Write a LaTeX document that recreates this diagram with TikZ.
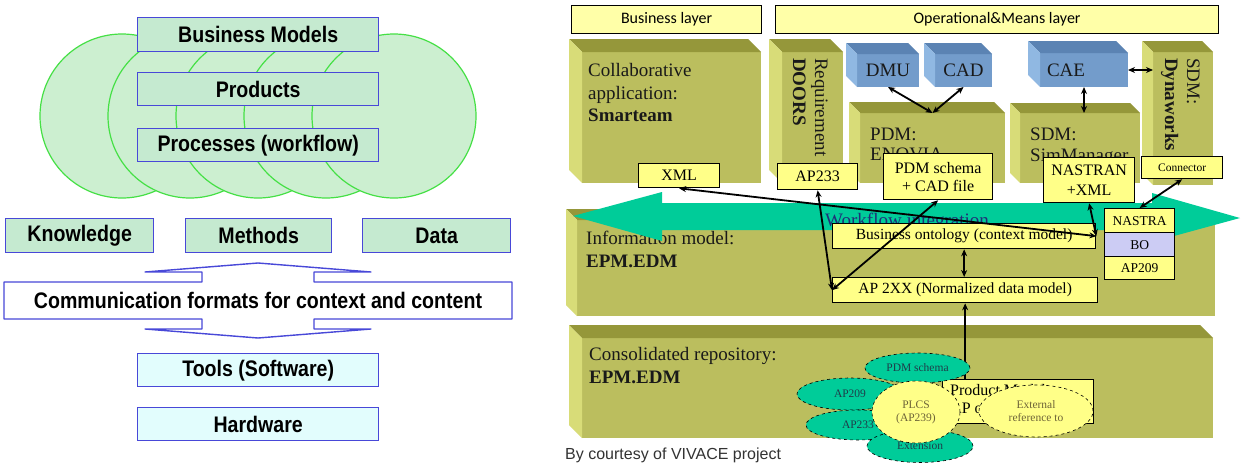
\documentclass[tikz,border=0pt]{standalone}
\usepackage{fontspec}
\setmainfont{Liberation Serif}
\newfontfamily\lsans[FakeStretch=0.87]{Liberation Sans}
\newfontfamily\arialf{Liberation Sans}
\newfontfamily\calib{Carlito}
\usetikzlibrary{calc,arrows.meta,shapes.geometric}
\definecolor{cgreen}{HTML}{CCEFD0}
\definecolor{cgline}{HTML}{45E045}
\definecolor{bgreen}{HTML}{C5EAD0}
\definecolor{bblue}{HTML}{4848D8}
\definecolor{bcyan}{HTML}{E2FDFD}
\definecolor{ofront}{HTML}{BBBE5E}
\definecolor{otop}{HTML}{95973A}
\definecolor{oside}{HTML}{D8DC78}
\definecolor{bfront}{HTML}{739CCB}
\definecolor{btop}{HTML}{5B83B3}
\definecolor{bside}{HTML}{90B8E2}
\definecolor{ylw}{HTML}{FFFF88}
\definecolor{hdry}{HTML}{FFFFA8}
\definecolor{lavc}{HTML}{CCCCF4}
\definecolor{tealc}{HTML}{00CC99}
\definecolor{wfblue}{HTML}{1F2F78}
\definecolor{telltxt}{HTML}{1F3D4A}
\definecolor{yelltxt}{HTML}{6E6438}
\definecolor{captc}{HTML}{333333}
\newcommand{\rbox}[7]{\node[#6,anchor=north west,minimum width={(#4-#2)*1pt},minimum height={(#5-#3)*1pt}] (#1) at (#2,#3) {#7};}
\newcommand{\tdbox}[7]{%
  \rbox{#1}{#2}{#3}{#4}{#5}{#7front}{}
  \fill[#7top] (#1.north west) -- ++(-#6,-#6) -- ($(#1.north east)+(-#6,-#6)$) -- (#1.north east) -- cycle;
  \fill[#7side] (#1.north west) -- ++(-#6,-#6) -- ($(#1.south west)+(-#6,-#6)$) -- (#1.south west) -- cycle;}
\tikzset{
  circ/.style={circle,minimum size=164pt,inner sep=0pt,fill=cgreen,draw=cgline,line width=1.2pt},
  lbox/.style={draw=bblue,line width=1.4pt,fill=bgreen,inner sep=0pt,font=\lsans\bfseries\fontsize{22.5}{26}\selectfont},
  lcbox/.style={lbox,fill=bcyan},
  olivefront/.style={fill=ofront,inner sep=0pt,outer sep=0pt},
  olivetop/.style={fill=otop},
  oliveside/.style={fill=oside},
  bluefront/.style={fill=bfront,inner sep=0pt,outer sep=0pt},
  bluetop/.style={fill=btop},
  blueside/.style={fill=bside},
  hdr/.style={draw=black,line width=1.2pt,fill=hdry,inner sep=0pt,font=\calib\fontsize{16}{18}\selectfont},
  ylab/.style={draw=black,line width=1.3pt,fill=ylw,inner sep=0pt,font=\fontsize{16}{18}\selectfont},
  lavbox/.style={ylab,fill=lavc},
  lbl/.style={inner sep=0pt,font=\fontsize{19}{22}\selectfont,text=black!90},
  conn/.style={line width=1.8pt,black},
  tell/.style={ellipse,draw=black,dashed,line width=0.6pt,fill=tealc,inner sep=0pt,text=telltxt,font=\fontsize{11.5}{13}\selectfont},
  yell/.style={tell,fill=ylw,text=yelltxt,align=center}
}
\begin{document}
\begin{tikzpicture}[x=1pt,y=-1pt,>={Stealth[length=7pt,width=6pt]}]
\fill[white] (0,0) rectangle (1243,472);
\useasboundingbox (0,0) rectangle (1243,472);
% ---------------- left part
\foreach \i/\cx in {1/122,2/190,3/258,4/326,5/394} \node[circ] (circ\i) at (\cx,116) {};
\rbox{bm}{137}{17}{378}{51}{lbox}{Business Models}
\rbox{prods}{137}{72}{378}{105}{lbox}{Products}
\rbox{procs}{137}{128}{378}{161}{lbox}{Processes (workflow)}
\rbox{know}{5}{218}{153}{252}{lbox}{Knowledge}
\rbox{meth}{185}{218}{331}{252}{lbox}{Methods}
\rbox{data}{362}{218}{510}{252}{lbox}{Data}
\draw[draw=bblue,line width=1.4pt,fill=white,line join=round]
  (4,282) -- (202,282) -- (202,272) -- (145,272) -- (258,263) -- (371,272) -- (314,272) -- (314,282)
  -- (512,282) -- (512,319) -- (314,319) -- (314,329) -- (371,329) -- (258,338) -- (145,329)
  -- (202,329) -- (202,319) -- (4,319) -- cycle;
\node[inner sep=0pt,font=\lsans\bfseries\fontsize{22.5}{26}\selectfont] (comm) at (258,300.5) {Communication formats for context and content};
\rbox{tools}{137}{353}{378}{386}{lcbox}{Tools (Software)}
\rbox{hw}{137}{407}{378}{440}{lcbox}{Hardware}
% ---------------- right part: big layers
\tdbox{info}{577}{220}{1215}{316}{11}{olive}
\tdbox{cons}{582}{338}{1213}{438}{13}{olive}
% headers
\rbox{bl}{571}{5}{761}{33}{hdr}{Business layer}
\rbox{ol}{775}{5}{1218}{33}{hdr}{Operational\&Means layer}
% application boxes
\tdbox{collab}{582}{52}{761}{183}{13}{olive}
\tdbox{req}{782}{52}{843}{183}{13}{olive}
\tdbox{pdm}{860}{113}{1005}{183}{11}{olive}
\tdbox{sdm}{1020}{113}{1140}{183}{10}{olive}
\tdbox{dyn}{1153}{52}{1213}{185}{11}{olive}
\tdbox{dmu}{857}{54}{919}{87}{11}{blue}
\tdbox{cad}{935}{54}{992}{87}{11}{blue}
\tdbox{cae}{1040}{53}{1128}{87}{12}{blue}
\node[lbl] (dmut) at (dmu.center) {DMU};
\node[lbl] (cadt) at (cad.center) {CAD};
\node[lbl] (caet) at (1066,70) {CAE};
% labels in boxes
\node[lbl,anchor=base west] (col1) at (588,76) {Collaborative};
\node[lbl,anchor=base west] (col2) at (588,99) {application:};
\node[lbl,anchor=base west] (col3) at (588,121) {\textbf{Smarteam}};
\node[lbl,rotate=-90,anchor=base west] (req1) at (815,58) {Requirement};
\node[lbl,rotate=-90,anchor=base west] (req2) at (793,58) {\textbf{DOORS}};
\node[lbl,rotate=-90,anchor=base west] (dyn1) at (1187,58) {SDM:};
\node[lbl,rotate=-90,anchor=base west] (dyn2) at (1165,58) {\textbf{Dynaworks}};
\node[lbl,anchor=base west] (pdm1) at (870,140) {PDM:};
\node[lbl,anchor=base west] (pdm2) at (870,160) {ENOVIA};
\node[lbl,anchor=base west] (sdm1) at (1030,140) {SDM:};
\node[lbl,anchor=base west] (sdm2) at (1030,161) {SimManager};
\node[lbl,anchor=base west] (inf1) at (586,244) {Information model:};
\node[lbl,anchor=base west] (inf2) at (586,267) {\textbf{EPM.EDM}};
\node[lbl,anchor=base west] (con1) at (589,360) {Consolidated repository:};
\node[lbl,anchor=base west] (con2) at (589,383) {\textbf{EPM.EDM}};
% yellow labels upper row
\rbox{xml}{638}{163}{719}{187}{ylab}{XML}
\rbox{ap233}{777}{163}{857}{189}{ylab}{AP233}
\rbox{pdms}{883}{153}{992}{199}{ylab,align=center}{PDM schema\\+ CAD file}
\rbox{nas}{1043}{157}{1134}{202}{ylab,align=center,font=\fontsize{16}{20}\selectfont}{NASTRAN\\+XML}
\rbox{conn}{1141}{156}{1222}{178}{ylab,font=\fontsize{11.5}{13}\selectfont}{Connector}
% workflow arrow
\fill[tealc] (573,216) -- (662,192) -- (662,203) -- (1152,203) -- (1152,193) -- (1240,218)
  -- (1152,242) -- (1152,230) -- (662,230) -- (662,241) -- cycle;
\node[lbl,anchor=base west,text=wfblue] (wft) at (825,226) {Workflow integration};
% information model boxes
\rbox{bont}{832}{223}{1095}{248}{ylab,font=\fontsize{15.5}{18}\selectfont}{Business ontology (context model)}
\rbox{ap2xx}{832}{277}{1097}{302}{ylab,font=\fontsize{15.5}{18}\selectfont}{AP 2XX (Normalized data model)}
\rbox{nastra}{1104}{208}{1174}{232}{ylab,font=\fontsize{13.5}{15}\selectfont}{NASTRA}
\rbox{bo}{1104}{232}{1174}{256}{lavbox,font=\fontsize{13.5}{15}\selectfont}{BO}
\rbox{ap209}{1104}{256}{1174}{279}{ylab,font=\fontsize{13.5}{15}\selectfont}{AP209}
% consolidated repository contents
\rbox{prod}{942}{379}{1093}{423}{ylab}{}
\node[inner sep=0pt,anchor=west,align=left,font=\fontsize{16}{18}\selectfont] (prodt) at (950,399) {Product Model\\AP or};
% connectors
\draw[conn,<->] (dmu.south) -- (pdm.north);
\draw[conn,<->] (cad.south) -- (pdm.north);
\draw[conn,<->] (cae.south) -- (cae.south |- sdm.north);
\draw[conn,<->] (cae.east) -- (dyn.west |- cae.east);
\draw[conn,<->] (xml.south) -- (bont.east);
\draw[conn,<->] (nas.south) -- (bont.east);
\draw[conn,<->] (conn.south) -- (nastra.north);
\draw[conn,<->] (ap233.south) -- (ap2xx.west);
\draw[conn,<->] (pdms.south) -- (ap2xx.west);
\draw[conn,<->] (bont.south) -- (bont.south |- ap2xx.north);
\coordinate (prodtop) at (ap2xx.south |- prod.north);
\draw[conn,->] (prodtop) -- (ap2xx.south);
% ellipses
\node[tell,minimum width=105pt,minimum height=30pt] (epdm) at (917.5,368) {PDM schema};
\node[tell,minimum width=106pt,minimum height=32pt] (e209) at (850,394) {AP209};
\node[tell,minimum width=104pt,minimum height=30pt] (e233) at (858,425) {AP233};
\node[tell,minimum width=106pt,minimum height=33pt] (eext) at (920,446) {Extension};
\node[yell,minimum width=88pt,minimum height=62pt] (eplcs) at (916,412) {PLCS\\(AP239)};
\node[yell,minimum width=114pt,minimum height=52pt] (eref) at (1036,411) {External\\reference to};
% caption
\node[inner sep=0pt,anchor=west,text=captc,font=\arialf\fontsize{16}{18}\selectfont] (cap) at (565,455) {By courtesy of VIVACE project};
\end{tikzpicture}
\end{document}
